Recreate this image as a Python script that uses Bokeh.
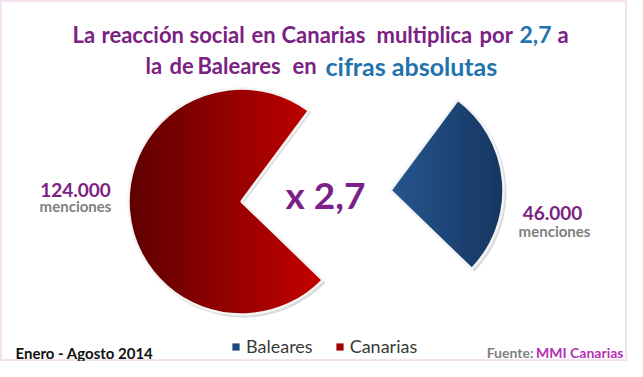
import math
from bokeh.plotting import figure
from bokeh.models import Range1d, Legend, LegendItem
from bokeh.core.properties import value
from bokeh.embed import file_html
from bokeh.resources import INLINE

# ---------------- data ----------------
regions = ["Baleares", "Canarias"]
mentions = [46000, 124000]
mention_labels = ["46.000", "124.000"]
mention_unit = "menciones"
ratio_label = "x 2,7"
title_l1 = ["La", "reacción", "social", "en", "Canarias", "multiplica", "por", "2,7", "a"]
title_l2 = ["la", "de", "Baleares", "en", "cifras absolutas"]
period_label = "Enero - Agosto 2014"
source_labels = ["Fuente:", "MMI Canarias"]

# ---------------- styles ----------------
W, H = 627, 361
FONT = "Lato"
PURPLE = "#7B2183"
BLUE_T = "#2272AE"
GRAY = "#7F7F7F"
MAGENTA = "#B52FB5"
grad = {"Baleares": ("#26568F", "#163660"), "Canarias": ("#5E0000", "#C60000")}
legend_col = {"Baleares": "#1F497D", "Canarias": "#A00000"}

# word positions (reference pixels), colours and sizes for the title
l1_x = [72, 101, 189, 251, 281, 376, 479, 519, 557]
l1_c = [PURPLE] * 7 + [BLUE_T, PURPLE]
l1_s = ["22px"] * 7 + ["23px", "22px"]
l2_x = [145, 169, 197, 292, 325]
l2_c = [PURPLE] * 4 + [BLUE_T]
l2_s = ["22px"] * 4 + ["25px"]


def X(xr):
    return xr


def Y(yr):
    return H - yr


p = figure(width=W, height=H, x_range=Range1d(0, W), y_range=Range1d(0, H),
           output_backend="svg", toolbar_location=None, min_border=0)
p.axis.visible = False
p.grid.visible = False
p.outline_line_color = "#F4E2F1"
p.outline_line_width = 3
p.background_fill_color = "white"
p.border_fill_color = "white"

# pie geometry (angles from data)
total = sum(mentions)
start0 = math.radians(-44)
angles = []
a = start0
for v in mentions:
    b = a + 2 * math.pi * v / total
    angles.append((a, b))
    a = b

centers = {"Baleares": (X(390), Y(190)), "Canarias": (X(241), Y(201))}
R = 113


def wedge_poly(cx, cy, r, a0, a1, n=160):
    pts = [(cx, cy)]
    for i in range(n + 1):
        t = a0 + (a1 - a0) * i / n
        pts.append((cx + r * math.cos(t), cy + r * math.sin(t)))
    return pts


def clip_half(pts, keep, x0):
    out = []
    for i in range(len(pts)):
        cur, prev = pts[i], pts[i - 1]
        cin, pin = keep(cur), keep(prev)
        if cin != pin:
            t = (x0 - prev[0]) / (cur[0] - prev[0])
            out.append((x0, prev[1] + t * (cur[1] - prev[1])))
        if cin:
            out.append(cur)
    return out


def mix(c1, c2, t):
    a_ = [int(c1[i:i + 2], 16) for i in (1, 3, 5)]
    b_ = [int(c2[i:i + 2], 16) for i in (1, 3, 5)]
    return "#%02x%02x%02x" % tuple(round(a_[k] + (b_[k] - a_[k]) * t) for k in range(3))


legend_items = []
for name, (a0, a1) in zip(regions, angles):
    cx, cy = centers[name]
    # soft shadow
    p.wedge(x=[cx + 2], y=[cy - 2], radius=R + 1, start_angle=[a0], end_angle=[a1],
            fill_color="#B8B8B8", fill_alpha=0.5, line_color=None)
    # base slice (also used as legend glyph)
    base = p.wedge(x=[cx], y=[cy], radius=R, start_angle=[a0], end_angle=[a1],
                   fill_color=legend_col[name], line_color=None)
    legend_items.append(LegendItem(label=name, renderers=[base]))
    # horizontal gradient made of thin clipped strips
    poly = wedge_poly(cx, cy, R, a0, a1)
    xs_all = [q[0] for q in poly]
    xmin, xmax = min(xs_all), max(xs_all)
    n = 60
    pxs, pys, cols = [], [], []
    for i in range(n):
        xa = xmin + (xmax - xmin) * i / n
        xb = xmin + (xmax - xmin) * (i + 1) / n + 1.0
        pts = clip_half(poly, lambda q: q[0] >= xa, xa)
        if pts:
            pts = clip_half(pts, lambda q: q[0] <= xb, xb)
        if len(pts) >= 3:
            pxs.append([q[0] for q in pts])
            pys.append([q[1] for q in pts])
            cols.append(mix(grad[name][0], grad[name][1], (i + 0.5) / n))
    p.patches(xs=pxs, ys=pys, fill_color=cols, line_color=None)
    p.wedge(x=[cx], y=[cy], radius=R, start_angle=[a0], end_angle=[a1],
            fill_alpha=0, line_color="#F4F4F4", line_width=2.5)

leg = Legend(items=legend_items, orientation="horizontal", location=(X(231), 4),
             glyph_width=9, glyph_height=9, label_standoff=6, spacing=22,
             padding=0, margin=0, border_line_color=None, background_fill_alpha=0,
             label_text_font=FONT, label_text_font_size="18px", label_text_color="#3A3A3A",
             label_height=14)
p.add_layout(leg)


def txt(x, y, s, size, color, align="left", style="bold"):
    p.text(x=x, y=y, text=s, text_font=value(FONT), text_font_size=size,
           text_color=color, text_align=align, text_baseline="alphabetic", text_font_style=style)


# title, word by word (the reference uses wide word spacing)
for w, xr, c, s in zip(title_l1, l1_x, l1_c, l1_s):
    txt([X(xr)], [Y(34)], [w], s, c)
for w, xr, c, s in zip(title_l2, l2_x, l2_c, l2_s):
    txt([X(xr)], [Y(65)], [w], s, c)

# value labels
txt([X(75)], [Y(189)], [mention_labels[1]], "19px", PURPLE, "center")
txt([X(75)], [Y(205)], [mention_unit], "15px", GRAY, "center")
txt([X(552)], [Y(212)], [mention_labels[0]], "19px", PURPLE, "center")
txt([X(554)], [Y(230)], [mention_unit], "15px", GRAY, "center")

# ratio
txt([X(325)], [Y(194)], [ratio_label], "37px", "#7D1F8A", "center")

# footer
txt([X(15)], [Y(352)], [period_label], "15px", "#111111", "left")
txt([X(533)], [Y(352)], [source_labels[0]], "14px", GRAY, "right")
txt([X(623)], [Y(352)], [source_labels[1]], "14px", MAGENTA, "right")

open("out.html", "w").write(file_html(p, INLINE))
